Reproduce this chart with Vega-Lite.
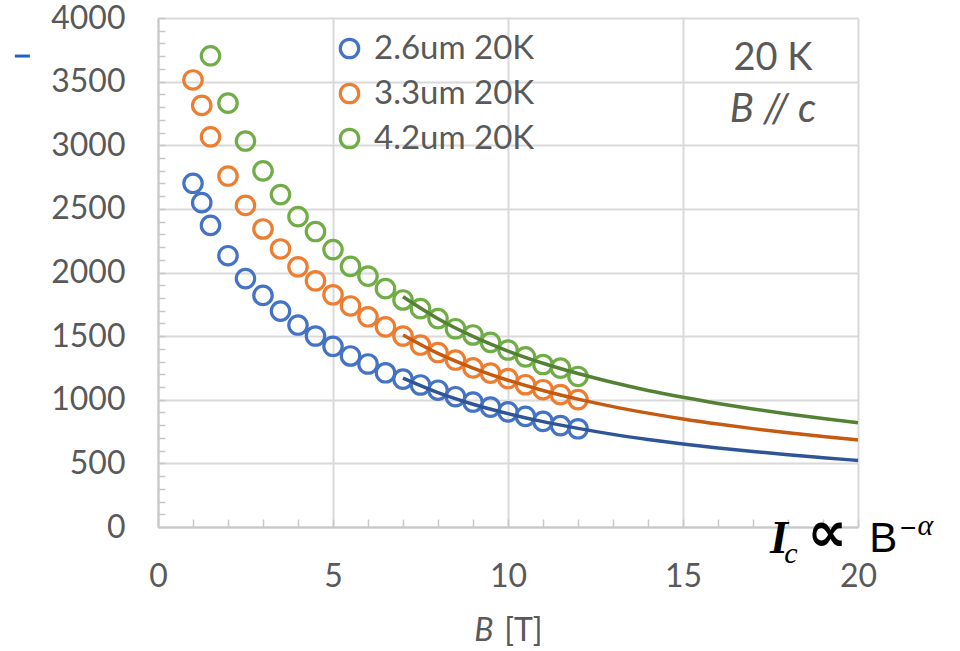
{
  "$schema": "https://vega.github.io/schema/vega-lite/v6.json",
  "width": 700,
  "height": 509,
  "autosize": "none",
  "padding": {"left": 158, "top": 18, "right": 102, "bottom": 124},
  "background": "white",
  "config": {
    "view": {"stroke": null},
    "font": "Lato",
    "axis": {
      "domainColor": "#c8c8c8",
      "domainWidth": 2,
      "tickColor": "#c8c8c8",
      "tickWidth": 1.5,
      "gridWidth": 2,
      "labelColor": "#595959",
      "labelFont": "Lato",
      "labelFontSize": 32,
      "labelOverlap": false,
      "titleColor": "#595959",
      "titleFont": "Lato",
      "titleFontSize": 32,
      "titleFontWeight": "normal"
    }
  },
  "datasets": {
    "pts": [
      {"series": "2.6um 20K", "B": 1, "Ic": 2701},
      {"series": "2.6um 20K", "B": 1.25, "Ic": 2549},
      {"series": "2.6um 20K", "B": 1.5, "Ic": 2370},
      {"series": "2.6um 20K", "B": 2, "Ic": 2132},
      {"series": "2.6um 20K", "B": 2.5, "Ic": 1952},
      {"series": "2.6um 20K", "B": 3, "Ic": 1820},
      {"series": "2.6um 20K", "B": 3.5, "Ic": 1697},
      {"series": "2.6um 20K", "B": 4, "Ic": 1587},
      {"series": "2.6um 20K", "B": 4.5, "Ic": 1501},
      {"series": "2.6um 20K", "B": 5, "Ic": 1420},
      {"series": "2.6um 20K", "B": 5.5, "Ic": 1344},
      {"series": "2.6um 20K", "B": 6, "Ic": 1281},
      {"series": "2.6um 20K", "B": 6.5, "Ic": 1212},
      {"series": "2.6um 20K", "B": 7, "Ic": 1162},
      {"series": "2.6um 20K", "B": 7.5, "Ic": 1116},
      {"series": "2.6um 20K", "B": 8, "Ic": 1075},
      {"series": "2.6um 20K", "B": 8.5, "Ic": 1024},
      {"series": "2.6um 20K", "B": 9, "Ic": 982},
      {"series": "2.6um 20K", "B": 9.5, "Ic": 942},
      {"series": "2.6um 20K", "B": 10, "Ic": 905},
      {"series": "2.6um 20K", "B": 10.5, "Ic": 869},
      {"series": "2.6um 20K", "B": 11, "Ic": 830},
      {"series": "2.6um 20K", "B": 11.5, "Ic": 797},
      {"series": "2.6um 20K", "B": 12, "Ic": 772},
      {"series": "3.3um 20K", "B": 1, "Ic": 3513},
      {"series": "3.3um 20K", "B": 1.25, "Ic": 3313},
      {"series": "3.3um 20K", "B": 1.5, "Ic": 3066},
      {"series": "3.3um 20K", "B": 2, "Ic": 2758},
      {"series": "3.3um 20K", "B": 2.5, "Ic": 2527},
      {"series": "3.3um 20K", "B": 3, "Ic": 2342},
      {"series": "3.3um 20K", "B": 3.5, "Ic": 2185},
      {"series": "3.3um 20K", "B": 4, "Ic": 2045},
      {"series": "3.3um 20K", "B": 4.5, "Ic": 1935},
      {"series": "3.3um 20K", "B": 5, "Ic": 1825},
      {"series": "3.3um 20K", "B": 5.5, "Ic": 1737},
      {"series": "3.3um 20K", "B": 6, "Ic": 1652},
      {"series": "3.3um 20K", "B": 6.5, "Ic": 1573},
      {"series": "3.3um 20K", "B": 7, "Ic": 1501},
      {"series": "3.3um 20K", "B": 7.5, "Ic": 1430},
      {"series": "3.3um 20K", "B": 8, "Ic": 1371},
      {"series": "3.3um 20K", "B": 8.5, "Ic": 1312},
      {"series": "3.3um 20K", "B": 9, "Ic": 1250},
      {"series": "3.3um 20K", "B": 9.5, "Ic": 1209},
      {"series": "3.3um 20K", "B": 10, "Ic": 1166},
      {"series": "3.3um 20K", "B": 10.5, "Ic": 1118},
      {"series": "3.3um 20K", "B": 11, "Ic": 1079},
      {"series": "3.3um 20K", "B": 11.5, "Ic": 1040},
      {"series": "3.3um 20K", "B": 12, "Ic": 1001},
      {"series": "4.2um 20K", "B": 1.5, "Ic": 3703},
      {"series": "4.2um 20K", "B": 2, "Ic": 3331},
      {"series": "4.2um 20K", "B": 2.5, "Ic": 3033},
      {"series": "4.2um 20K", "B": 3, "Ic": 2799},
      {"series": "4.2um 20K", "B": 3.5, "Ic": 2612},
      {"series": "4.2um 20K", "B": 4, "Ic": 2439},
      {"series": "4.2um 20K", "B": 4.5, "Ic": 2322},
      {"series": "4.2um 20K", "B": 5, "Ic": 2180},
      {"series": "4.2um 20K", "B": 5.5, "Ic": 2048},
      {"series": "4.2um 20K", "B": 6, "Ic": 1972},
      {"series": "4.2um 20K", "B": 6.5, "Ic": 1873},
      {"series": "4.2um 20K", "B": 7, "Ic": 1784},
      {"series": "4.2um 20K", "B": 7.5, "Ic": 1716},
      {"series": "4.2um 20K", "B": 8, "Ic": 1638},
      {"series": "4.2um 20K", "B": 8.5, "Ic": 1558},
      {"series": "4.2um 20K", "B": 9, "Ic": 1509},
      {"series": "4.2um 20K", "B": 9.5, "Ic": 1451},
      {"series": "4.2um 20K", "B": 10, "Ic": 1391},
      {"series": "4.2um 20K", "B": 10.5, "Ic": 1337},
      {"series": "4.2um 20K", "B": 11, "Ic": 1277},
      {"series": "4.2um 20K", "B": 11.5, "Ic": 1248},
      {"series": "4.2um 20K", "B": 12, "Ic": 1183}
    ],
    "fit": [
      {"fit": "2.6um fit", "B": 7, "Ic": 1170},
      {"fit": "2.6um fit", "B": 8, "Ic": 1056},
      {"fit": "2.6um fit", "B": 9, "Ic": 965},
      {"fit": "2.6um fit", "B": 10, "Ic": 891},
      {"fit": "2.6um fit", "B": 11, "Ic": 828},
      {"fit": "2.6um fit", "B": 12, "Ic": 775},
      {"fit": "2.6um fit", "B": 13, "Ic": 728},
      {"fit": "2.6um fit", "B": 14, "Ic": 688},
      {"fit": "2.6um fit", "B": 15, "Ic": 653},
      {"fit": "2.6um fit", "B": 16, "Ic": 621},
      {"fit": "2.6um fit", "B": 17, "Ic": 593},
      {"fit": "2.6um fit", "B": 18, "Ic": 568},
      {"fit": "2.6um fit", "B": 19, "Ic": 545},
      {"fit": "2.6um fit", "B": 20, "Ic": 523},
      {"fit": "3.3um fit", "B": 7, "Ic": 1509},
      {"fit": "3.3um fit", "B": 8, "Ic": 1364},
      {"fit": "3.3um fit", "B": 9, "Ic": 1249},
      {"fit": "3.3um fit", "B": 10, "Ic": 1153},
      {"fit": "3.3um fit", "B": 11, "Ic": 1073},
      {"fit": "3.3um fit", "B": 12, "Ic": 1005},
      {"fit": "3.3um fit", "B": 13, "Ic": 946},
      {"fit": "3.3um fit", "B": 14, "Ic": 895},
      {"fit": "3.3um fit", "B": 15, "Ic": 849},
      {"fit": "3.3um fit", "B": 16, "Ic": 809},
      {"fit": "3.3um fit", "B": 17, "Ic": 773},
      {"fit": "3.3um fit", "B": 18, "Ic": 740},
      {"fit": "3.3um fit", "B": 19, "Ic": 711},
      {"fit": "3.3um fit", "B": 20, "Ic": 684},
      {"fit": "4.2um fit", "B": 7, "Ic": 1810},
      {"fit": "4.2um fit", "B": 8, "Ic": 1637},
      {"fit": "4.2um fit", "B": 9, "Ic": 1498},
      {"fit": "4.2um fit", "B": 10, "Ic": 1383},
      {"fit": "4.2um fit", "B": 11, "Ic": 1287},
      {"fit": "4.2um fit", "B": 12, "Ic": 1206},
      {"fit": "4.2um fit", "B": 13, "Ic": 1135},
      {"fit": "4.2um fit", "B": 14, "Ic": 1073},
      {"fit": "4.2um fit", "B": 15, "Ic": 1019},
      {"fit": "4.2um fit", "B": 16, "Ic": 971},
      {"fit": "4.2um fit", "B": 17, "Ic": 927},
      {"fit": "4.2um fit", "B": 18, "Ic": 888},
      {"fit": "4.2um fit", "B": 19, "Ic": 853},
      {"fit": "4.2um fit", "B": 20, "Ic": 820}
    ],
    "one": [{"k": 1}]
  },
  "layer": [
    {
      "data": {"name": "pts"},
      "mark": {"type": "point", "shape": "circle", "filled": false, "strokeWidth": 3.2, "size": 340, "opacity": 1},
      "encoding": {
        "x": {
          "field": "B", "type": "quantitative", "title": null,
          "scale": {"domain": [0, 20], "nice": false, "zero": true},
          "axis": {
            "values": [0,1,2,3,4,5,6,7,8,9,10,11,12,13,14,15,16,17,18,19,20],
            "tickCount": 100,
            "format": "d",
            "labelExpr": "datum.value % 5 === 0 ? datum.label : ''",
            "grid": true,
            "gridColor": {"condition": {"test": "datum.value % 5 === 0", "value": "#d9d9d9"}, "value": "transparent"},
            "tickSize": -8,
            "labelPadding": 42,
            "labelFlush": false,
            "labelOverlap": false
          }
        },
        "y": {
          "field": "Ic", "type": "quantitative", "title": null,
          "scale": {"domain": [0, 4000], "nice": false},
          "axis": {
            "values": [0,100,200,300,400,500,600,700,800,900,1000,1100,1200,1300,1400,1500,1600,1700,1800,1900,2000,2100,2200,2300,2400,2500,2600,2700,2800,2900,3000,3100,3200,3300,3400,3500,3600,3700,3800,3900,4000],
            "tickCount": 100,
            "format": "d",
            "labelExpr": "datum.value % 500 === 0 ? datum.label : ''",
            "grid": true,
            "gridColor": {"condition": {"test": "datum.value % 500 === 0", "value": "#d9d9d9"}, "value": "transparent"},
            "tickSize": -7,
            "labelPadding": 40,
            "labelFlush": false,
            "labelOverlap": false
          }
        },
        "color": {
          "field": "series", "type": "nominal",
          "scale": {"domain": ["2.6um 20K", "3.3um 20K", "4.2um 20K"], "range": ["#4472C4", "#ED7D31", "#70AD47"]},
          "legend": {
            "title": null,
            "orient": "none",
            "legendX": 175,
            "legendY": 14,
            "padding": 0,
            "symbolType": "circle",
            "symbolSize": 340,
            "symbolStrokeWidth": 3.2,
            "symbolFillColor": "transparent",
            "labelFont": "Lato",
            "labelFontSize": 33,
            "labelLimit": 400,
            "labelColor": "#595959",
            "labelOffset": 8,
            "rowPadding": 11
          }
        }
      }
    },
    {
      "data": {"name": "fit"},
      "mark": {"type": "line", "strokeWidth": 3.5, "interpolate": "monotone"},
      "encoding": {
        "x": {"field": "B", "type": "quantitative", "title": null, "scale": {"domain": [0, 20], "nice": false}},
        "y": {"field": "Ic", "type": "quantitative", "title": null, "scale": {"domain": [0, 4000], "nice": false}},
        "color": {
          "field": "fit", "type": "nominal",
          "scale": {"domain": ["2.6um fit", "3.3um fit", "4.2um fit"], "range": ["#2F5597", "#C55A11", "#548235"]},
          "legend": null
        }
      }
    },
    {
      "data": {"name": "one"},
      "mark": {"type": "text", "text": "B", "font": "Lato", "fontSize": 32, "fontStyle": "italic", "color": "#595959", "align": "center", "baseline": "alphabetic"},
      "encoding": {
        "x": {"datum": 9.31, "type": "quantitative", "title": null, "scale": {"domain": [0, 20], "nice": false}},
        "y": {"datum": -896, "type": "quantitative", "title": null, "scale": {"domain": [0, 4000], "nice": false}}
      }
    },
    {
      "data": {"name": "one"},
      "mark": {"type": "text", "text": "[T]", "font": "Lato", "fontSize": 32, "color": "#595959", "align": "center", "baseline": "alphabetic"},
      "encoding": {
        "x": {"datum": 10.44, "type": "quantitative", "title": null, "scale": {"domain": [0, 20], "nice": false}},
        "y": {"datum": -896, "type": "quantitative", "title": null, "scale": {"domain": [0, 4000], "nice": false}}
      }
    },
    {
      "data": {"name": "one"},
      "mark": {"type": "text", "text": "20 K", "font": "Lato", "fontSize": 38, "color": "#595959", "align": "center", "baseline": "alphabetic"},
      "encoding": {
        "x": {"datum": 17.57, "type": "quantitative", "title": null, "scale": {"domain": [0, 20], "nice": false}},
        "y": {"datum": 3591, "type": "quantitative", "title": null, "scale": {"domain": [0, 4000], "nice": false}}
      }
    },
    {
      "data": {"name": "one"},
      "mark": {"type": "text", "text": "B // c", "font": "Lato", "fontSize": 40, "fontStyle": "italic", "color": "#595959", "align": "center", "baseline": "alphabetic"},
      "encoding": {
        "x": {"datum": 17.57, "type": "quantitative", "title": null, "scale": {"domain": [0, 20], "nice": false}},
        "y": {"datum": 3185, "type": "quantitative", "title": null, "scale": {"domain": [0, 4000], "nice": false}}
      }
    },
    {
      "data": {"name": "one"},
      "mark": {"type": "text", "text": "I", "font": "Liberation Serif", "fontSize": 46, "fontStyle": "italic", "fontWeight": "bold", "color": "black", "align": "center", "baseline": "alphabetic"},
      "encoding": {
        "x": {"datum": 17.74, "type": "quantitative", "title": null, "scale": {"domain": [0, 20], "nice": false}},
        "y": {"datum": -204, "type": "quantitative", "title": null, "scale": {"domain": [0, 4000], "nice": false}}
      }
    },
    {
      "data": {"name": "one"},
      "mark": {"type": "text", "text": "c", "font": "Liberation Serif", "fontSize": 30, "fontStyle": "italic", "color": "black", "align": "center", "baseline": "alphabetic"},
      "encoding": {
        "x": {"datum": 18.08, "type": "quantitative", "title": null, "scale": {"domain": [0, 20], "nice": false}},
        "y": {"datum": -281, "type": "quantitative", "title": null, "scale": {"domain": [0, 4000], "nice": false}}
      }
    },
    {
      "data": {"name": "one"},
      "mark": {"type": "text", "text": "∝", "font": "DejaVu Sans", "fontSize": 56, "fontWeight": "bold", "color": "black", "align": "center", "baseline": "alphabetic"},
      "encoding": {
        "x": {"datum": 19.12, "type": "quantitative", "title": null, "scale": {"domain": [0, 20], "nice": false}},
        "y": {"datum": -185, "type": "quantitative", "title": null, "scale": {"domain": [0, 4000], "nice": false}}
      }
    },
    {
      "data": {"name": "one"},
      "mark": {"type": "text", "text": "B", "font": "Liberation Sans", "fontSize": 42, "color": "black", "align": "center", "baseline": "alphabetic"},
      "encoding": {
        "x": {"datum": 20.72, "type": "quantitative", "title": null, "scale": {"domain": [0, 20], "nice": false}},
        "y": {"datum": -194, "type": "quantitative", "title": null, "scale": {"domain": [0, 4000], "nice": false}}
      }
    },
    {
      "data": {"name": "one"},
      "mark": {"type": "text", "text": "−", "font": "Liberation Sans", "fontSize": 28, "color": "black", "align": "left", "baseline": "alphabetic"},
      "encoding": {
        "x": {"datum": 21.2, "type": "quantitative", "title": null, "scale": {"domain": [0, 20], "nice": false}},
        "y": {"datum": -79, "type": "quantitative", "title": null, "scale": {"domain": [0, 4000], "nice": false}}
      }
    },
    {
      "data": {"name": "one"},
      "mark": {"type": "text", "text": "α", "font": "Liberation Serif", "fontSize": 30, "fontStyle": "italic", "color": "black", "align": "left", "baseline": "alphabetic"},
      "encoding": {
        "x": {"datum": 21.7, "type": "quantitative", "title": null, "scale": {"domain": [0, 20], "nice": false}},
        "y": {"datum": -63, "type": "quantitative", "title": null, "scale": {"domain": [0, 4000], "nice": false}}
      }
    },
    {
      "data": {"name": "one"},
      "mark": {"type": "rule", "color": "#1F63C6", "strokeWidth": 3},
      "encoding": {
        "x": {"datum": -4.09, "type": "quantitative", "title": null, "scale": {"domain": [0, 20], "nice": false}},
        "x2": {"datum": -3.66},
        "y": {"datum": 3701, "type": "quantitative", "title": null, "scale": {"domain": [0, 4000], "nice": false}}
      }
    }
  ],
  "resolve": {"scale": {"color": "independent"}}
}
